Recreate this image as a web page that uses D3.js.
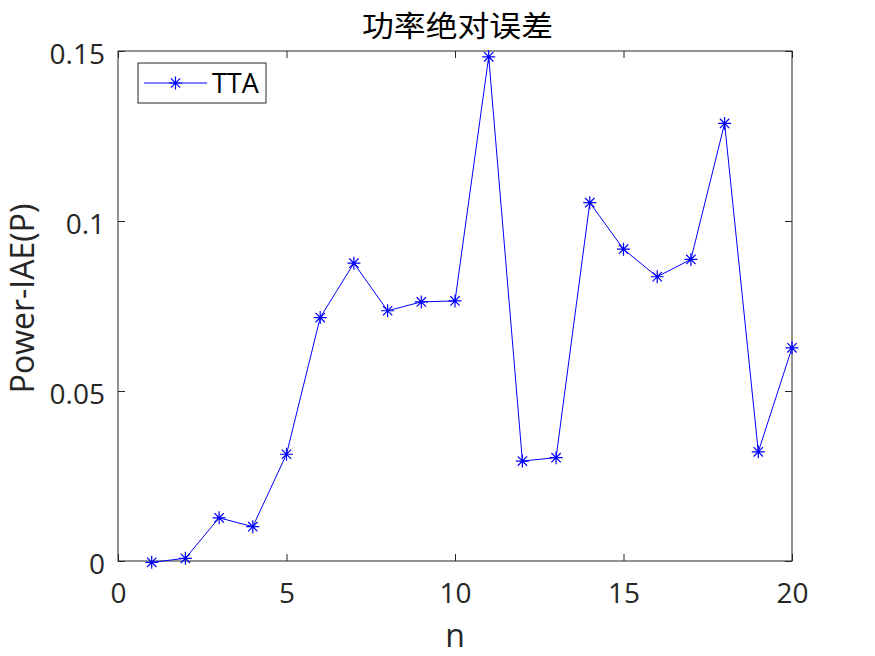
<!DOCTYPE html>
<html><head><meta charset="utf-8">
<script src="https://cdn.jsdelivr.net/npm/d3@7"></script>
<style>body{margin:0;background:#fff}</style>
</head><body>
<svg id="c" width="875" height="656"></svg>
<script>
const nValues = [1,2,3,4,5,6,7,8,9,10,11,12,13,14,15,16,17,18,19,20];
const ttaValues = [-0.0004,0.0008,0.0127,0.0101,0.0314,0.0716,0.0876,0.0736,0.0762,0.0765,0.1483,0.0294,0.0304,0.1054,0.0917,0.0836,0.0887,0.1287,0.0321,0.0627];
const xTicks = [0,5,10,15,20];
const yTicks = [0,0.05,0.1,0.15];
const yTickLabels = ["0","0.05","0.1","0.15"];
const titleText = "功率绝对误差";
const xLabel = "n";
const yLabel = "Power-IAE(P)";
const seriesName = "TTA";

const svg = d3.select("#c");
const L=118,R=792,T=51,B=561;
const axisColor="#262626";
const font="'Open Sans','Noto Sans',sans-serif";
const x = d3.scaleLinear().domain([0,20]).range([L,R]);
const y = d3.scaleLinear().domain([0,0.15]).range([B,T]);

// box
svg.append("rect").attr("x",L).attr("y",T).attr("width",R-L).attr("height",B-T)
  .attr("fill","none").attr("stroke",axisColor).attr("stroke-width",1);

// axes with inner ticks
const gx = svg.append("g").attr("transform",`translate(0,${B})`)
  .call(d3.axisBottom(x).tickValues(xTicks).tickSizeInner(-7).tickSizeOuter(0).tickPadding(22).tickFormat(d3.format("d")));
const gxt = svg.append("g").attr("transform",`translate(0,${T})`)
  .call(d3.axisTop(x).tickValues(xTicks).tickSizeInner(-7).tickSizeOuter(0).tickFormat(""));
const gy = svg.append("g").attr("transform",`translate(${L},0)`)
  .call(d3.axisLeft(y).tickValues(yTicks).tickSizeInner(-7).tickSizeOuter(0).tickPadding(13).tickFormat((d,i)=>yTickLabels[i]));
const gyr = svg.append("g").attr("transform",`translate(${R},0)`)
  .call(d3.axisRight(y).tickValues(yTicks).tickSizeInner(-7).tickSizeOuter(0).tickFormat(""));
[gx,gxt,gy,gyr].forEach(g=>{
  g.select(".domain").remove();
  g.selectAll("line").attr("stroke",axisColor);
  g.selectAll("text").attr("fill",axisColor).style("font-family",font).style("font-size","28px");
});
gx.selectAll("text").attr("dy","0.71em");
gy.selectAll("text").attr("dy","0.43em");

// line
const line = d3.line().x((d,i)=>x(nValues[i])).y(d=>y(d));
svg.append("path").datum(ttaValues).attr("d",line).attr("fill","none")
  .attr("stroke","#0000ff").attr("stroke-width",1);

function star(g, cx, cy, r){
  const d = `M${cx-r},${cy}L${cx+r},${cy}M${cx},${cy-r}L${cx},${cy+r}`+
    `M${cx-r*0.72},${cy-r*0.72}L${cx+r*0.72},${cy+r*0.72}M${cx-r*0.72},${cy+r*0.72}L${cx+r*0.72},${cy-r*0.72}`;
  g.append("path").attr("d",d).attr("stroke","#0000ff").attr("stroke-width",1.2).attr("fill","none");
}
const mg = svg.append("g");
ttaValues.forEach((v,i)=>star(mg, x(nValues[i]), y(v), 6.5));

// title & labels
svg.append("text").attr("x",362).attr("y",37)
  .attr("textLength",191).attr("lengthAdjust","spacingAndGlyphs")
  .style("font-family","'Noto Sans CJK SC',sans-serif").style("font-size","29px").attr("fill","#000").text(titleText);
svg.append("text").attr("x",455).attr("y",647).attr("text-anchor","middle")
  .style("font-family",font).style("font-size","32px").attr("fill",axisColor).text(xLabel);
svg.append("text").attr("transform",`translate(34,298.5) rotate(-90)`).attr("text-anchor","middle")
  .style("font-family",font).style("font-size","32px").attr("fill",axisColor).text(yLabel);

// legend
const lg = svg.append("g");
lg.append("rect").attr("x",138).attr("y",63).attr("width",128).attr("height",40)
  .attr("fill","#fff").attr("stroke",axisColor).attr("stroke-width",1);
lg.append("line").attr("x1",144).attr("x2",207).attr("y1",83).attr("y2",83).attr("stroke","#0000ff").attr("stroke-width",1);
star(lg,175.5,83,6.5);
lg.append("text").attr("x",212).attr("y",93).style("font-family",font).style("font-size","27px").attr("fill","#000").text(seriesName);
</script>
</body></html>
